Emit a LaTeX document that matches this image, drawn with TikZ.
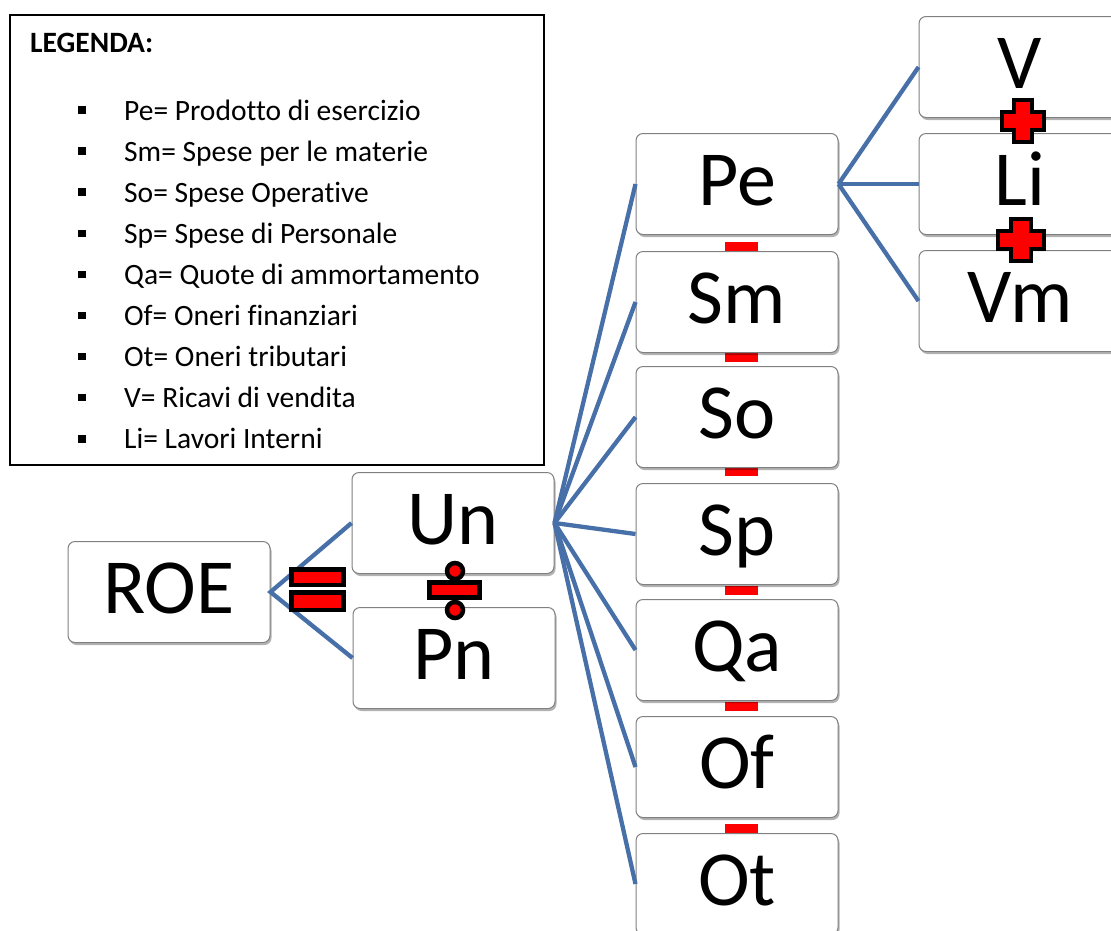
\documentclass[tikz,border=0pt]{standalone}
\usepackage{fontspec}
\setmainfont[Ligatures={NoCommon}]{Carlito}
\usetikzlibrary{shadows}

\definecolor{linkblue}{RGB}{72,112,168}
\definecolor{boxgray}{RGB}{128,128,128}
\definecolor{opred}{RGB}{255,0,0}

\tikzset{
  termbox/.style={draw=boxgray, line width=1pt, fill=white, rounded corners=7pt,
    minimum width=202pt, minimum height=101pt, inner sep=0pt,
    text height=52pt, text depth=10pt,
    font=\fontsize{78}{80}\selectfont,
    drop shadow={shadow xshift=1.5pt, shadow yshift=-2.5pt, opacity=0.3, fill=black}},
  link/.style={draw=linkblue, line width=4.3pt},
  minusbar/.style={fill=opred, draw=none},
  opshape/.style={draw=black, fill=opred, line width=4.5pt, miter limit=10},
  legtext/.style={anchor=base west, inner sep=0pt, font=\fontsize{29.5}{32}\selectfont},
  legbullet/.style={fill=black, minimum size=7.5pt, inner sep=0pt},
  plussign/.pic={
    \path[opshape] (-9,-21) -- (9,-21) -- (9,-9) -- (21,-9) -- (21,9) -- (9,9)
      -- (9,21) -- (-9,21) -- (-9,9) -- (-21,9) -- (-21,-9) -- (-9,-9) -- cycle;
  }
}

\begin{document}
\begin{tikzpicture}[x=1pt, y=-1pt]
\useasboundingbox (0,0) rectangle (1111,930);

% legend
\node (legend) [draw=black, line width=1.8pt, minimum width=534pt, minimum height=450pt,
  anchor=north west, inner sep=0pt] at (9,14) {};
\node (legtitle) [legtext, font=\fontsize{29.5}{32}\selectfont\bfseries] at (30,52) {LEGENDA:};
\foreach \t [count=\i from 0] in {Pe= Prodotto di esercizio, Sm= Spese per le materie,
  So= Spese Operative, Sp= Spese di Personale, Qa= Quote di ammortamento,
  Of= Oneri finanziari, Ot= Oneri tributari, V= Ricavi di vendita, Li= Lavori Interni}{
  \node (legb\i) [legbullet] at (82, 120+41.1*\i-10) {};
  \node (legt\i) [legtext] at (124, 120+41.1*\i) {\t};
}

% minus signs between the cost terms
\foreach \y [count=\i] in {246.5, 357.5, 471.5, 590, 706.5, 828.5}{
  \path[minusbar] (725,\y-4.5) rectangle (758,\y+4.5);
}

% terms
\node (roe) [termbox] at (169,592) {ROE};
\node (un)  [termbox] at (453,523) {Un};
\node (pn)  [termbox] at (454,658) {Pn};
\node (pe)  [termbox] at (737,184) {Pe};
\node (sm)  [termbox] at (737,302) {Sm};
\node (so)  [termbox] at (737,417) {So};
\node (sp)  [termbox] at (737,534) {Sp};
\node (qa)  [termbox] at (737,650) {Qa};
\node (of)  [termbox] at (737,767) {Of};
\node (ot)  [termbox] at (737,884) {Ot};
\node (v)   [termbox] at (1020,67) {V};
\node (li)  [termbox] at (1020,184) {Li};
\node (vm)  [termbox] at (1020,301) {Vm};

% connectors
\draw[link] (un.west) -- (roe.east) -- (pn.west);
\foreach \c in {pe,sm,so,sp,qa,of,ot}{
  \draw[link] (un.east) -- (\c.west);
}
\foreach \c in {v,li,vm}{
  \draw[link] (pe.east) -- (\c.west);
}

% equals sign
\path[opshape] (291.5,569.5) rectangle (343.5,585);
\path[opshape] (291.5,592.5) rectangle (343.5,610);

% division sign
\path[opshape] (455,571) circle (8);
\path[opshape] (455,610) circle (8);
\path[opshape] (429.5,582.5) rectangle (479.5,597.5);

% plus signs
\pic at (1023,121) {plussign};
\pic[xscale=1.1] at (1021,240) {plussign};
\end{tikzpicture}
\end{document}
